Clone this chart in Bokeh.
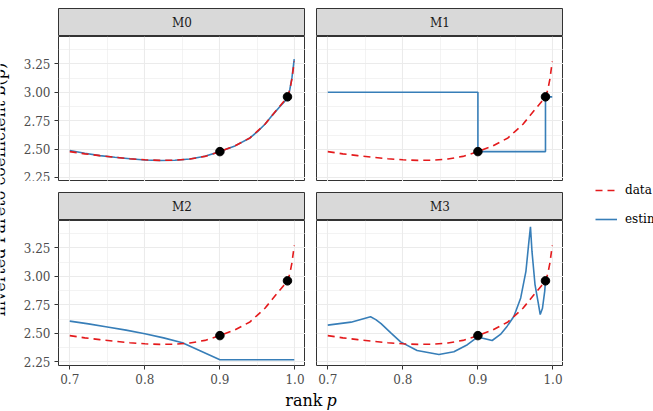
from math import pi

from bokeh.embed import file_html
from bokeh.layouts import column, row
from bokeh.models import (FixedTicker, Label, Legend, LegendItem,
                          PrintfTickFormatter, Range1d, Spacer)
from bokeh.plotting import figure
from bokeh.resources import INLINE

# ---- observed inverted Pareto coefficient b(p) ----
data_p = [0.70, 0.72, 0.74, 0.76, 0.78, 0.80, 0.82, 0.84, 0.86, 0.88, 0.90,
          0.92, 0.94, 0.95, 0.96, 0.97, 0.98, 0.985, 0.99, 0.993, 0.996, 0.999]
data_b = [2.48, 2.46, 2.445, 2.43, 2.418, 2.408, 2.403, 2.405, 2.415, 2.438, 2.48,
          2.53, 2.60, 2.66, 2.72, 2.80, 2.88, 2.92, 2.96, 3.02, 3.12, 3.27]

# ---- model estimates ----
m0_p = data_p
m0_b = [2.49, 2.465, 2.445, 2.43, 2.417, 2.407, 2.402, 2.404, 2.415, 2.44, 2.48,
        2.53, 2.60, 2.655, 2.72, 2.80, 2.875, 2.91, 2.95, 3.02, 3.13, 3.29]

m1_p = [0.70, 0.90, 0.90, 0.99, 0.99, 0.999]
m1_b = [3.00, 3.00, 2.48, 2.48, 2.96, 2.96]

m2_p = [0.70, 0.725, 0.75, 0.775, 0.80, 0.825, 0.85, 0.875, 0.90, 0.999]
m2_b = [2.607, 2.583, 2.556, 2.528, 2.497, 2.46, 2.418, 2.343, 2.268, 2.268]

m3_p = [0.70, 0.731, 0.757, 0.764, 0.771, 0.784, 0.797, 0.819, 0.848, 0.868, 0.886,
        0.899, 0.908, 0.919, 0.930, 0.939, 0.948, 0.957, 0.964, 0.968, 0.970,
        0.972, 0.976, 0.980, 0.983, 0.986, 0.989, 0.990]
m3_b = [2.572, 2.598, 2.645, 2.62, 2.585, 2.504, 2.425, 2.35, 2.315, 2.338, 2.40,
        2.465, 2.455, 2.437, 2.49, 2.563, 2.65, 2.81, 3.046, 3.31, 3.434,
        3.22, 2.93, 2.78, 2.665, 2.72, 2.87, 2.96]

# threshold points
knot_p = [0.90, 0.99]
knot_b = [2.48, 2.96]

panel_names = ["M0", "M1", "M2", "M3"]
estimates = [(m0_p, m0_b), (m1_p, m1_b), (m2_p, m2_b), (m3_p, m3_b)]

x_ticks = [0.7, 0.8, 0.9, 1.0]
x_minor = [0.75, 0.85, 0.95]
y_ticks = [2.25, 2.50, 2.75, 3.00, 3.25]
y_minor = [2.375, 2.625, 2.875, 3.125, 3.375]

X_RANGE = (0.685, 1.014)
Y_RANGE = (2.218, 3.489)

RED = "#E41A1C"
BLUE = "#377EB8"
FONT = "DejaVu Serif"

FRAME_W, FRAME_H = 247, 145
LEFT_AX, BOTTOM_AX = 38, 24
GAP = 11
STRIP_H = 28
XLAB_H = 22


def make_panel(idx, left_axis, bottom_axis):
    w = FRAME_W + (LEFT_AX if left_axis else 0)
    h = FRAME_H + (BOTTOM_AX if bottom_axis else 0)
    p = figure(width=w, height=h, x_range=Range1d(*X_RANGE), y_range=Range1d(*Y_RANGE),
               toolbar_location=None, tools="", output_backend="svg",
               x_axis_location="below" if bottom_axis else None,
               y_axis_location="left" if left_axis else None,
               min_border=0,
               min_border_left=LEFT_AX if left_axis else 0,
               min_border_bottom=BOTTOM_AX if bottom_axis else 0,
               min_border_top=0, min_border_right=0)
    p.background_fill_color = "white"
    p.border_fill_color = "white"
    p.outline_line_color = "#333333"
    p.outline_line_width = 1

    xt = FixedTicker(ticks=x_ticks, minor_ticks=x_minor)
    yt = FixedTicker(ticks=y_ticks, minor_ticks=y_minor)
    p.xgrid.ticker = xt
    p.ygrid.ticker = yt
    for g in (p.xgrid, p.ygrid):
        g.grid_line_color = "#EBEBEB"
        g.grid_line_width = 1.1
        g.minor_grid_line_color = "#EBEBEB"
        g.minor_grid_line_width = 0.6

    for ax, tk, fmt, standoff in ((p.xaxis, xt, "%.1f", 4), (p.yaxis, yt, "%.2f", 4)):
        if len(ax) == 0:
            continue
        ax.ticker = tk
        ax.formatter = PrintfTickFormatter(format=fmt)
        ax.axis_line_color = None
        ax.major_tick_line_color = "#333333"
        ax.major_tick_out = 4
        ax.major_tick_in = 0
        ax.minor_tick_line_color = None
        ax.major_label_text_color = "#4D4D4D"
        ax.major_label_text_font = FONT
        ax.major_label_text_font_size = "12px"
        ax.major_label_standoff = standoff

    ep, eb = estimates[idx]
    p.line(ep, eb, line_color=BLUE, line_width=1.6)
    p.line(data_p, data_b, line_color=RED, line_width=1.6, line_dash="7 5")
    p.scatter(knot_p, knot_b, size=8.5, color="black")
    return p


def make_strip(name):
    s = figure(width=FRAME_W, height=STRIP_H, x_range=Range1d(0, 1), y_range=Range1d(0, 1),
               toolbar_location=None, tools="", output_backend="svg",
               x_axis_location=None, y_axis_location=None, min_border=0)
    s.grid.visible = False
    s.background_fill_color = "#D9D9D9"
    s.border_fill_color = "#D9D9D9"
    s.outline_line_color = "#333333"
    s.outline_line_width = 1
    s.add_layout(Label(x=0.5, y=0.5, text=name, text_align="center", text_baseline="middle",
                       text_font=FONT, text_font_size="12px", text_color="#1A1A1A"))
    return s


def blank(width, height):
    return Spacer(width=width, height=height)


panels = [make_panel(0, True, False), make_panel(1, False, False),
          make_panel(2, True, True), make_panel(3, False, True)]
strips = [make_strip(n) for n in panel_names]

main_w = LEFT_AX + 2 * FRAME_W + GAP

# x axis title
xlab = figure(width=main_w, height=XLAB_H, toolbar_location=None, tools="", output_backend="svg",
              x_axis_location=None, y_axis_location=None, min_border=0,
              x_range=Range1d(0, 1), y_range=Range1d(0, 1))
xlab.grid.visible = False
xlab.outline_line_color = None
xlab.add_layout(Label(x=302, y=11, x_units="screen", y_units="screen", text="rank",
                      text_align="right", text_baseline="middle",
                      text_font=FONT, text_font_size="16px", text_color="black"))
xlab.add_layout(Label(x=306, y=11, x_units="screen", y_units="screen", text="p",
                      text_align="left", text_baseline="middle", text_font_style="italic",
                      text_font=FONT, text_font_size="16px", text_color="black"))

main = column(
    blank(main_w, 8),
    row(blank(LEFT_AX, STRIP_H), strips[0], blank(GAP, STRIP_H), strips[1]),
    row(panels[0], blank(GAP, FRAME_H), panels[1]),
    blank(main_w, GAP),
    row(blank(LEFT_AX, STRIP_H), strips[2], blank(GAP, STRIP_H), strips[3]),
    row(panels[2], blank(GAP, FRAME_H + BOTTOM_AX), panels[3]),
    xlab,
)

# y axis title
ylab = figure(width=20, height=411, toolbar_location=None, tools="", output_backend="svg",
              x_axis_location=None, y_axis_location=None, min_border=0,
              x_range=Range1d(0, 1), y_range=Range1d(0, 1))
ylab.grid.visible = False
ylab.outline_line_color = None
ylab.add_layout(Label(x=-1, y=222, x_units="screen", y_units="screen",
                      text="inverted Pareto coefficient b(p)", angle=pi / 2,
                      text_align="center", text_baseline="alphabetic",
                      text_font=FONT, text_font_size="16px", text_color="black"))

# legend: its renderers sit outside this figure's ranges, only the keys show
leg = figure(width=90, height=411, toolbar_location=None, tools="", output_backend="svg",
             x_axis_location=None, y_axis_location=None, min_border=0,
             x_range=Range1d(0, 0.1), y_range=Range1d(0, 0.1))
leg.grid.visible = False
leg.outline_line_color = None
r_data = leg.line(data_p, data_b, line_color=RED, line_width=1.6, line_dash="7 5")
r_est = leg.line(m0_p, m0_b, line_color=BLUE, line_width=1.6)
legend = Legend(items=[LegendItem(label="data", renderers=[r_data]),
                       LegendItem(label="estimate", renderers=[r_est])],
                location=(32, 182), orientation="vertical",
                glyph_width=22, glyph_height=20, label_standoff=8, spacing=9,
                padding=0, margin=0, border_line_color=None, background_fill_alpha=0,
                label_text_font=FONT, label_text_font_size="12px", label_text_color="black")
leg.add_layout(legend)

layout = row(ylab, main, leg)

with open("out.html", "w") as f:
    f.write(file_html(layout, INLINE))
